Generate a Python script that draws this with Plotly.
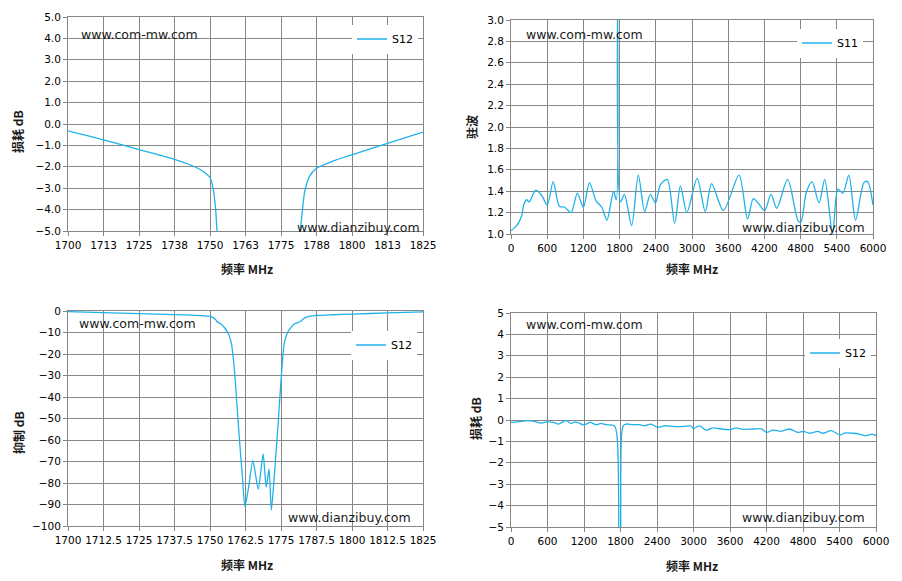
import plotly.graph_objects as go

# ---------------- data ----------------
# narrow-band S12 (1700-1825 MHz), used for top-left (loss) and bottom-left (rejection)
freq_narrow = [1700, 1712.5, 1725, 1737.5, 1745, 1748, 1750, 1751, 1752, 1752.5, 1754,
               1756.25, 1757.6, 1758.5, 1759.4, 1760.2, 1761.4, 1762.3, 1763.6, 1765.1,
               1767.0, 1768.7, 1769.8, 1770.8, 1771.6, 1772.7, 1773.9, 1775, 1776.1,
               1777.3, 1779.5, 1781.8, 1783.3, 1785, 1787.5, 1793, 1800, 1812.5, 1825]
s12_narrow = [-0.32, -0.74, -1.2, -1.65, -2.02, -2.25, -2.5, -2.95, -4.0, -5.0, -6.2,
              -10, -15.5, -26, -42, -57, -77, -91, -82, -69.5,
              -83, -66.5, -82, -73.4, -92.7, -75.7, -54, -32.5, -15.5,
              -10, -6.2, -4.9, -3.2, -2.46, -2.07, -1.75, -1.44, -0.9, -0.38]

# broadband S11 VSWR (0-6000 MHz)
freq_s11 = [0, 60, 120, 177, 215, 260, 300, 410, 510, 600, 700, 800, 890, 995, 1100,
            1200, 1300, 1410, 1505, 1590, 1700, 1745, 1752, 1793, 1815, 1880, 2000,
            2110, 2215, 2310, 2395, 2475, 2590, 2712, 2808, 2915, 3085, 3220, 3325,
            3520, 3780, 3920, 4015, 4095, 4204, 4310, 4405, 4585, 4760, 4805, 4895,
            4990, 5105, 5200, 5330, 5418, 5500, 5600, 5710, 5850, 5910, 6000]
vswr_s11 = [1.03, 1.06, 1.10, 1.17, 1.28, 1.32, 1.30, 1.41, 1.36, 1.27, 1.49, 1.26,
            1.25, 1.20, 1.38, 1.25, 1.48, 1.31, 1.25, 1.13, 1.40, 1.32, 12, 12, 1.30,
            1.37, 1.08, 1.55, 1.21, 1.37, 1.29, 1.46, 1.51, 1.10, 1.45, 1.20, 1.52,
            1.21, 1.47, 1.22, 1.55, 1.14, 1.33, 1.29, 1.22, 1.37, 1.24, 1.51, 1.12,
            1.11, 1.39, 1.49, 1.29, 1.51, 1.01, 1.42, 1.38, 1.55, 1.13, 1.48, 1.49, 1.27]

# broadband S12 loss (0-6000 MHz)
freq_s21 = [0, 110, 274, 384, 493, 603, 712, 778, 904, 986, 1068, 1194, 1304, 1397,
            1479, 1562, 1699, 1745, 1764, 1800, 1815, 1845, 1890, 2000, 2110, 2192,
            2301, 2411, 2521, 2685, 2849, 2959, 3000, 3099, 3208, 3318, 3427, 3592,
            3701, 3811, 3975, 4112, 4205, 4304, 4441, 4578, 4715, 4808, 4907, 5044,
            5126, 5263, 5411, 5482, 5619, 5729, 5838, 5937, 6000]
s12_broad = [-0.11, -0.09, -0.03, -0.06, -0.14, -0.09, -0.12, -0.19, -0.03, -0.16,
             -0.09, -0.23, -0.11, -0.22, -0.16, -0.22, -0.27, -0.8, -60, -60, -0.8,
             -0.27, -0.19, -0.22, -0.22, -0.27, -0.19, -0.34, -0.27, -0.31, -0.30,
             -0.28, -0.40, -0.27, -0.47, -0.37, -0.41, -0.45, -0.37, -0.44, -0.42,
             -0.41, -0.58, -0.47, -0.53, -0.42, -0.58, -0.53, -0.62, -0.53, -0.62,
             -0.50, -0.70, -0.61, -0.62, -0.66, -0.73, -0.66, -0.74]

narrow_ticks = [1700 + 12.5 * i for i in range(11)]
narrow_ticktext_tl = ['1700', '1713', '1725', '1738', '1750', '1763', '1775',
                      '1788', '1800', '1813', '1825']
narrow_ticktext_bl = ['1700', '1712.5', '1725', '1737.5', '1750', '1762.5', '1775',
                      '1787.5', '1800', '1812.5', '1825']

# ---------------- style ----------------
OFF = 8                      # page body margin in the browser
W, H = 902 - OFF, 581 - OFF  # figure size
LINE = '#1FB2EA'
GRID = '#868686'
TICKFONT = dict(family='DejaVu Sans', size=10.5, color='#000000')
CJK = 'Noto Sans CJK SC'

def px(x):
    return (x - OFF) / W

def py(y):
    return 1 - (y - OFF) / H

def dom_x(a, b):
    return [px(a), px(b)]

def dom_y(top, bottom):
    return [py(bottom), py(top)]

fig = go.Figure()

fig.add_trace(go.Scatter(x=freq_narrow, y=s12_narrow, name='S12', mode='lines',
                         line=dict(color=LINE, width=1.3, shape='spline', smoothing=0.6),
                         xaxis='x', yaxis='y', legend='legend'))
fig.add_trace(go.Scatter(x=freq_s11, y=vswr_s11, name='S11', mode='lines',
                         line=dict(color=LINE, width=1.3, shape='spline', smoothing=0.8),
                         xaxis='x2', yaxis='y2', legend='legend2'))
fig.add_trace(go.Scatter(x=freq_narrow, y=s12_narrow, name='S12', mode='lines',
                         line=dict(color=LINE, width=1.3, shape='spline', smoothing=0.6),
                         xaxis='x3', yaxis='y3', legend='legend3'))
fig.add_trace(go.Scatter(x=freq_s21, y=s12_broad, name='S12', mode='lines',
                         line=dict(color=LINE, width=1.3, shape='spline', smoothing=0.8),
                         xaxis='x4', yaxis='y4', legend='legend4'))

def ax(**kw):
    base = dict(showgrid=True, gridcolor=GRID, gridwidth=1, zeroline=False,
                showline=True, linecolor=GRID, linewidth=1, mirror=True,
                ticks='outside', ticklen=4, tickcolor=GRID, tickfont=TICKFONT,
                fixedrange=True, automargin=False, tickangle=0)
    base.update(kw)
    return base

fig.update_layout(
    width=W, height=H,
    margin=dict(l=0, r=0, t=0, b=0, autoexpand=False),
    paper_bgcolor='white', plot_bgcolor='white',
    xaxis=ax(domain=dom_x(68, 423), range=[1700, 1825], tickvals=narrow_ticks,
             ticktext=narrow_ticktext_tl, anchor='y'),
    yaxis=ax(domain=dom_y(17, 231), range=[-5, 5], dtick=1, tick0=0,
             tickformat='.1f', anchor='x'),
    xaxis2=ax(domain=dom_x(511, 873), range=[0, 6000], dtick=600, tick0=0, anchor='y2'),
    yaxis2=ax(domain=dom_y(20, 234), range=[1, 3], dtick=0.2, tick0=1,
              tickformat='.1f', anchor='x2'),
    xaxis3=ax(domain=dom_x(68, 423), range=[1700, 1825], tickvals=narrow_ticks,
              ticktext=narrow_ticktext_bl, anchor='y3'),
    yaxis3=ax(domain=dom_y(311, 526), range=[-100, 0], dtick=10, tick0=0, anchor='x3'),
    xaxis4=ax(domain=dom_x(511, 876), range=[0, 6000], dtick=600, tick0=0, anchor='y4'),
    yaxis4=ax(domain=dom_y(313, 527), range=[-5, 5], dtick=1, tick0=0, anchor='x4'),
    showlegend=True,
)

leg_common = dict(bgcolor='white', borderwidth=0, itemwidth=30,
                  font=dict(family='DejaVu Sans', size=11, color='#000000'),
                  xanchor='left', yanchor='middle', tracegroupgap=0)
fig.update_layout(
    legend=dict(x=px(352), y=py(39), **leg_common),
    legend2=dict(x=px(797), y=py(43), **leg_common),
    legend3=dict(x=px(351), y=py(345), **leg_common),
    legend4=dict(x=px(805), y=py(353), **leg_common),
)

anns = []
def text(x, y, s, size=12.5, anchor='left', family='DejaVu Sans', angle=0):
    anns.append(dict(x=px(x), y=py(y), xref='paper', yref='paper', text=s,
                     showarrow=False, xanchor=anchor, yanchor='middle', textangle=angle,
                     font=dict(family=family, size=size, color='#1a1a1a')))

# watermarks
text(79, 34, 'www.com-mw.com')
text(295, 227, 'www.dianzibuy.com')
text(524, 34, 'www.com-mw.com')
text(740, 227, 'www.dianzibuy.com')
text(77, 323, 'www.com-mw.com')
text(286, 517, 'www.dianzibuy.com')
text(524, 324, 'www.com-mw.com')
text(740, 517, 'www.dianzibuy.com')

# axis titles
xt = '<b>频率 MHz</b>'
text(247, 268, xt, size=12, anchor='center', family=CJK)
text(692, 268, xt, size=12, anchor='center', family=CJK)
text(247, 564, xt, size=12, anchor='center', family=CJK)
text(692, 565, xt, size=12, anchor='center', family=CJK)
text(18, 132, '<b>损耗 dB</b>', size=12, anchor='center', family=CJK, angle=-90)
text(471, 127, '<b>驻波</b>', size=12, anchor='center', family=CJK, angle=-90)
text(18, 433, '<b>抑制 dB</b>', size=12, anchor='center', family=CJK, angle=-90)
text(475, 419, '<b>损耗 dB</b>', size=12, anchor='center', family=CJK, angle=-90)

fig.update_layout(annotations=anns)

fig.write_html('out.html')
